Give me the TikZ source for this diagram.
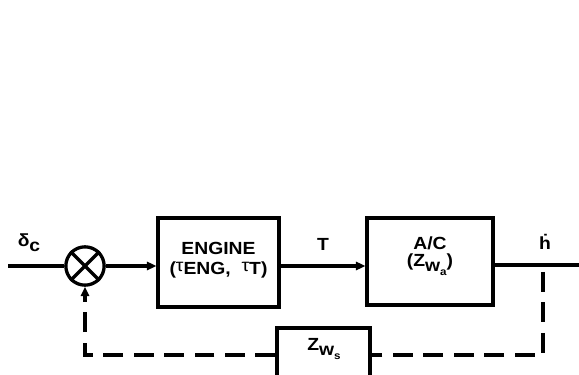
\documentclass[tikz,border=0pt]{standalone}
\usepackage{fontspec}
\setmainfont{Liberation Sans}[FakeStretch=1.1]
\usetikzlibrary{arrows.meta}
\begin{document}
\begin{tikzpicture}[x=0.03cm,y=-0.03cm,
  every node/.style={font=\fontsize{15}{17}\selectfont\bfseries, align=center},
  line/.style={line width=2.8pt},
  dline/.style={line width=2.8pt, dash pattern=on 17pt off 9pt},
  arr/.style={-{Triangle[length=8pt,width=7pt]}},
  blk/.style={draw, line width=2.8pt, inner sep=0pt},
  sum/.style={draw, circle, line width=2.8pt, minimum size=1.15cm, inner sep=0pt}]
\useasboundingbox (0,0) rectangle (579,375);
\node[sum] (s) at (85,266) {};
\draw[line] (s.north west) -- (s.south east) (s.north east) -- (s.south west);
\node[blk, minimum width=3.63cm, minimum height=2.67cm] (eng) at (218.5,262.5) {};
\node (engt) at (218.5,260) {ENGINE\\[0pt](\raisebox{2pt}{\mdseries τ}ENG,\ \ \raisebox{2pt}{\mdseries τ}T)};
\node[blk, minimum width=3.78cm, minimum height=2.61cm] (ac) at (430,261.5) {};
\node (act) at (430,256) {A/C\\[-2pt](Z\raisebox{-4pt}{w\raisebox{-3pt}{\small a}})};
\node[blk, minimum width=2.79cm, minimum height=1.74cm] (zb) at (323.5,357) {};
\node (zt) at (324,349) {Z\raisebox{-4pt}{w\raisebox{-3pt}{\small s}}};
\coordinate (in) at (8,266);
\coordinate (out) at (579,265);
\coordinate (tap) at (543,272);
\coordinate (c1) at (543,355);
\coordinate (c2) at (87,355);
\draw[line] (in) -- (s.west);
\draw[line,arr] (s.east) -- (s.east -| eng.west);
\draw[line,arr] (eng.east |- s) -- (ac.west |- s);
\draw[line] (ac.east |- out) -- (out);
\draw[dline] (tap) -- (c1) -- (zb.east |- c1);
\draw[dline,arr] (zb.west |- c2) -- (c2 -| s.south) -- (s.south);
\node (dc) at (29,243) {δ\raisebox{-4pt}{c}};
\node (tl) at (323,244) {T};
\node (hd) at (545,242) {\.h};
\end{tikzpicture}
\end{document}
